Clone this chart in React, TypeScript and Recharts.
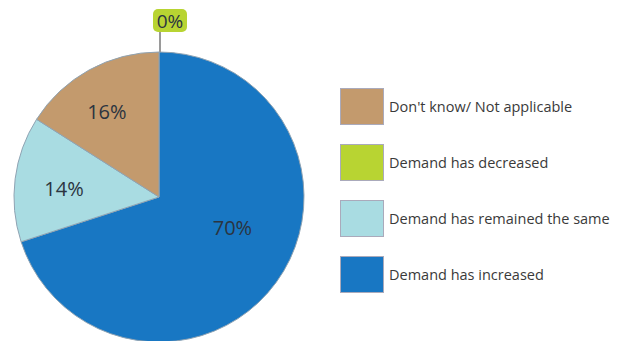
import { PieChart, Pie, Cell } from 'recharts'

// 需要の変化（回答割合 %）
const categories = ['Demand has increased', 'Demand has remained the same', "Don't know/ Not applicable", 'Demand has decreased']
const shares = [70, 14, 16, 0]
const legendOrder = ["Don't know/ Not applicable", 'Demand has decreased', 'Demand has remained the same', 'Demand has increased']

const COLORS: Record<string, string> = {
  'Demand has increased': '#1877c3',
  'Demand has remained the same': '#a9dce2',
  "Don't know/ Not applicable": '#c39a6d',
  'Demand has decreased': '#b8d432',
}

const data = categories.map((name, i) => ({ name, value: shares[i] }))

const FONT = '"Open Sans", "Noto Sans", sans-serif'
const RAD = Math.PI / 180

// label nudges so text sits where the original put it
const NUDGE: Record<string, [number, number]> = {
  'Demand has increased': [-4, -26],
  'Demand has remained the same': [0, 3],
  "Don't know/ Not applicable": [-6, -2],
}

function renderLabel(props: any) {
  const { cx, cy, midAngle, outerRadius, value, name } = props
  if (value === 0) {
    const x = cx + outerRadius * Math.cos(-midAngle * RAD)
    const y = cy + outerRadius * Math.sin(-midAngle * RAD)
    return (
      <g>
        <line x1={x + 1} y1={y} x2={x + 1} y2={y - 20} stroke="#9a9a9a" strokeWidth={2} />
        <rect x={x - 6} y={y - 43} width={34} height={23} rx={5} fill={COLORS[name]} />
        <text x={x + 11} y={y - 31} textAnchor="middle" dominantBaseline="central"
          fontFamily={FONT} fontSize={19} fill="#2b3440">
          {`${value}%`}
        </text>
      </g>
    )
  }
  const r = outerRadius * 0.66
  const [nx, ny] = NUDGE[name] || [0, 0]
  const x = cx + r * Math.cos(-midAngle * RAD) + nx
  const y = cy + r * Math.sin(-midAngle * RAD) + ny
  return (
    <text x={x} y={y} textAnchor="middle" dominantBaseline="central"
      fontFamily={FONT} fontSize={20} fill="#2b3440">
      {`${value}%`}
    </text>
  )
}

function LegendBox() {
  return (
    <div style={{ position: 'absolute', left: 340, top: 88, fontFamily: FONT }}>
      {legendOrder.map(name => (
        <div key={name} style={{ display: 'flex', alignItems: 'center', height: 37, marginBottom: 19 }}>
          <div style={{ width: 44, height: 37, background: COLORS[name], border: '1px solid #aab', boxSizing: 'border-box' }} />
          <span style={{ marginLeft: 5, fontSize: 14.5, color: '#3a3a3a', whiteSpace: 'nowrap' }}>{name}</span>
        </div>
      ))}
    </div>
  )
}

export default function App() {
  return (
    <div style={{ position: 'absolute', left: 0, top: 0, width: 627, height: 341, background: '#fff', overflow: 'hidden' }}>
      <PieChart width={627} height={341} margin={{ top: 0, right: 0, bottom: 0, left: 0 }}>
        <Pie
          data={data}
          dataKey="value"
          nameKey="name"
          cx={159}
          cy={197}
          outerRadius={145}
          startAngle={90}
          endAngle={-270}
          stroke="#8fa3b3"
          strokeWidth={1}
          label={renderLabel}
          labelLine={false}
          isAnimationActive={false}
        >
          {data.map(d => (
            <Cell key={d.name} fill={COLORS[d.name]} />
          ))}
        </Pie>
      </PieChart>
      <LegendBox />
    </div>
  )
}
